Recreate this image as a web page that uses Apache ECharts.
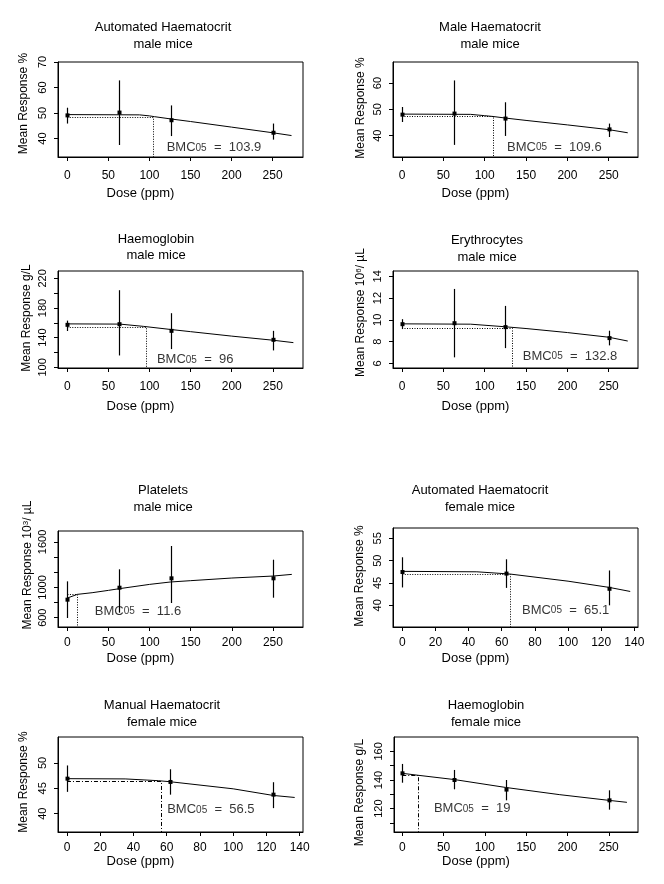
<!DOCTYPE html>
<html>
<head>
<meta charset="utf-8">
<script src="https://cdn.jsdelivr.net/npm/echarts@6/dist/echarts.min.js"></script>
<style>html,body{margin:0;padding:0;background:#fff}#c{width:664px;height:884px}</style>
</head>
<body>
<div id="c"></div>
<script>
// ---------- DATA ----------
const titles = [
  'Automated Haematocrit\nmale mice', 'Male Haematocrit\nmale mice',
  'Haemoglobin\nmale mice', 'Erythrocytes\nmale mice',
  'Platelets\nmale mice', 'Automated Haematocrit\nfemale mice',
  'Manual Haematocrit\nfemale mice', 'Haemoglobin\nfemale mice'
];
const yNames = [
  'Mean Response %', 'Mean Response %', 'Mean Response g/L', 'Mean Response 10{sup|6}/ µL',
  'Mean Response 10{sup|3}/ µL', 'Mean Response %', 'Mean Response %', 'Mean Response g/L'
];
const xTicksMale = [0, 50, 100, 150, 200, 250];
const xTicksFemale = [0, 20, 40, 60, 80, 100, 120, 140];

// Panel 1: Automated Haematocrit, male
const dose1 = [0, 63, 126, 250];
const mean1 = [49.1, 50.2, 47.2, 42.3];
const low1 = [45.9, 37.5, 41.0, 39.6];
const high1 = [52.1, 62.8, 53.0, 45.9];
const curveX1 = [0, 88, 100, 106, 126, 150, 200, 250, 273];
const curveY1 = [49.4, 49.3, 48.9, 48.6, 47.7, 46.7, 44.5, 42.3, 41.2];
const bmc1 = 103.9, bmr1 = 48.3;
const yTicks1 = [40, 50, 60, 70], yLabels1 = [40, 50, 60, 70];

// Panel 2: Male Haematocrit, male
const dose2 = [0, 63, 125, 250];
const mean2 = [48.0, 48.4, 46.5, 42.4];
const low2 = [45.2, 36.5, 39.9, 39.5];
const high2 = [50.9, 61.0, 52.7, 44.6];
const curveX2 = [0, 83, 100, 110, 125, 150, 200, 250, 273];
const curveY2 = [48.2, 48.1, 47.6, 47.3, 46.7, 45.8, 44.1, 42.3, 41.1];
const bmc2 = 109.6, bmr2 = 47.3;
const yTicks2 = [40, 50, 60], yLabels2 = [40, 50, 60];

// Panel 3: Haemoglobin, male
const dose3 = [0, 63, 126, 250];
const mean3 = [157.3, 158.2, 149.2, 137.1];
const low3 = [149, 116, 124.6, 122.8];
const high3 = [163, 204, 173, 149.2];
const curveX3 = [0, 64, 93, 126, 150, 200, 250, 275];
const curveY3 = [158.6, 158.3, 155.2, 151.0, 148.1, 142.1, 136.6, 133.3];
const bmc3 = 96, bmr3 = 154.6;
const yTicks3 = [100, 120, 140, 160, 180, 200, 220], yLabels3 = [100, 140, 180, 220];

// Panel 4: Erythrocytes, male
const dose4 = [0, 63, 125, 250];
const mean4 = [9.6, 9.69, 9.33, 8.32];
const low4 = [9.15, 6.55, 7.4, 7.65];
const high4 = [10.06, 12.84, 11.28, 9.0];
const curveX4 = [0, 83, 125, 150, 200, 250, 273];
const curveY4 = [9.63, 9.6, 9.36, 9.2, 8.83, 8.4, 8.05];
const bmc4 = 132.8, bmr4 = 9.24;
const yTicks4 = [6, 8, 10, 12, 14], yLabels4 = [6, 8, 10, 12, 14];

// Panel 5: Platelets, male
const dose5 = [0, 63, 126, 250];
const mean5 = [838, 996, 1120, 1120];
const low5 = [596, 666, 794, 864];
const high5 = [1080, 1239, 1547, 1366];
const curveX5 = [0, 12, 30, 50, 63, 100, 125, 150, 200, 250, 273];
const curveY5 = [860, 908, 930, 961, 983, 1040, 1071, 1089, 1124, 1150, 1172];
const bmc5 = 11.6, bmr5 = 908;
const yTicks5 = [600, 800, 1000, 1200, 1400, 1600], yLabels5 = [600, 1000, 1600];

// Panel 6: Automated Haematocrit, female
const dose6 = [0, 62.5, 125];
const mean6 = [47.46, 47.1, 43.7];
const low6 = [44.0, 43.9, 40.0];
const high6 = [50.75, 50.3, 47.8];
const curveX6 = [0, 45, 65, 100, 125, 137.5];
const curveY6 = [47.6, 47.5, 47.0, 45.4, 44.0, 43.1];
const bmc6 = 65.1, bmr6 = 46.9;
const yTicks6 = [40, 45, 50, 55], yLabels6 = [40, 45, 50, 55];

// Panel 7: Manual Haematocrit, female
const dose7 = [0, 62, 124];
const mean7 = [46.9, 46.25, 43.75];
const low7 = [44.3, 43.75, 41.1];
const high7 = [49.5, 48.75, 46.2];
const curveX7 = [0, 35, 55, 62, 100, 124, 137];
const curveY7 = [46.9, 46.85, 46.5, 46.3, 44.9, 43.6, 43.2];
const bmc7 = 56.5, bmr7 = 46.45;
const yTicks7 = [40, 45, 50], yLabels7 = [40, 45, 50];

// Panel 8: Haemoglobin, female
const dose8 = [0, 63, 125, 250];
const mean8 = [144.65, 140, 133.3, 125.8];
const low8 = [138.1, 133.5, 125.8, 119.3];
const high8 = [151.2, 147, 140, 132.8];
const curveX8 = [0, 19, 63, 125, 190, 250, 272];
const curveY8 = [144.65, 143.3, 140.3, 134.8, 129.8, 125.8, 124.4];
const bmc8 = 19, bmr8 = 143.3;
const yTicks8 = [110, 120, 130, 140, 150, 160], yLabels8 = [120, 140, 160];

const panelsData = [
  {dose: dose1, mean: mean1, low: low1, high: high1, cx: curveX1, cy: curveY1, bmc: bmc1, bmr: bmr1, yt: yTicks1, yl: yLabels1, xt: xTicksMale},
  {dose: dose2, mean: mean2, low: low2, high: high2, cx: curveX2, cy: curveY2, bmc: bmc2, bmr: bmr2, yt: yTicks2, yl: yLabels2, xt: xTicksMale},
  {dose: dose3, mean: mean3, low: low3, high: high3, cx: curveX3, cy: curveY3, bmc: bmc3, bmr: bmr3, yt: yTicks3, yl: yLabels3, xt: xTicksMale},
  {dose: dose4, mean: mean4, low: low4, high: high4, cx: curveX4, cy: curveY4, bmc: bmc4, bmr: bmr4, yt: yTicks4, yl: yLabels4, xt: xTicksMale},
  {dose: dose5, mean: mean5, low: low5, high: high5, cx: curveX5, cy: curveY5, bmc: bmc5, bmr: bmr5, yt: yTicks5, yl: yLabels5, xt: xTicksMale},
  {dose: dose6, mean: mean6, low: low6, high: high6, cx: curveX6, cy: curveY6, bmc: bmc6, bmr: bmr6, yt: yTicks6, yl: yLabels6, xt: xTicksFemale},
  {dose: dose7, mean: mean7, low: low7, high: high7, cx: curveX7, cy: curveY7, bmc: bmc7, bmr: bmr7, yt: yTicks7, yl: yLabels7, xt: xTicksFemale},
  {dose: dose8, mean: mean8, low: low8, high: high8, cx: curveX8, cy: curveY8, bmc: bmc8, bmr: bmr8, yt: yTicks8, yl: yLabels8, xt: xTicksMale}
];

// ---------- LAYOUT (positions / axis ranges / styles) ----------
const layout = [
  {grid: [58, 62, 245, 95],  x: [-11.3, 287],   y: [32.8, 70],    tx: 163, ty: 19.5, lab: [121, 36.5],  xm: 13, xg: 30, yg: 28, yPad: [0, 0, 0, 12], dash: [1, 1.5]},
  {grid: [393, 62, 245, 95], x: [-10.9, 285.4], y: [31.9, 68],    tx: 490, ty: 19.5, lab: [127, 35.7],  xm: 13, xg: 30, yg: 26, yPad: [0, 0, 0, 3],  dash: [1, 1.5]},
  {grid: [58, 271, 245, 97], x: [-11.3, 286.7], y: [99.1, 229.9], tx: 156, ty: 231,  lab: [109, 110.3], xm: 13, xg: 32, yg: 25, yPad: [0, 0, 0, 3],  dash: [1, 1.5]},
  {grid: [393, 271, 245, 97],x: [-10.9, 285.4], y: [5.57, 14.49], tx: 487, ty: 232.5,lab: [146, 6.67],  xm: 13, xg: 32, yg: 26, yPad: [0, 0, 0, 14], dash: [1, 1.5]},
  {grid: [58, 531, 245, 96], x: [-11.5, 286.6], y: [477, 1745],   tx: 163, ty: 482.5,lab: [33.3, 687],  xm: 10, xg: 25, yg: 24, yPad: [0, 0, 0, 28], dash: [1, 1.5]},
  {grid: [393, 528, 245, 99],x: [-5.6, 142.2],  y: [35.15, 57.3], tx: 480, ty: 482.5,lab: [72.2, 38.9],  xm: 10, xg: 25, yg: 27, yPad: [0, 0, 0, 3],  dash: [1, 1.5]},
  {grid: [58, 737, 245, 95], x: [-5.4, 142.0],  y: [36.4, 55.1],  tx: 162, ty: 697.5,lab: [60.3, 40.8],  xm: 10, xg: 23, yg: 28, yPad: [0, 0, 0, 5],  dash: [4, 2, 1, 2]},
  {grid: [394, 737, 244, 95],x: [-10.0, 285.4], y: [103.7, 170],  tx: 486, ty: 697.5,lab: [38.3, 120],   xm: 10, xg: 23, yg: 28, yPad: [0, 16, 0, 0], dash: [4, 2, 1, 2]}
];

const FONT = '"Liberation Sans", Arial, sans-serif';
const BLACK = '#000';
const crisp = v => Math.round(v) + 0.5;

const option = {
  animation: false,
  backgroundColor: '#fff',
  textStyle: {fontFamily: FONT, color: BLACK},
  title: [], grid: [], xAxis: [], yAxis: [], series: []
};

panelsData.forEach((p, i) => {
  const L = layout[i];
  option.title.push({
    text: titles[i], left: L.tx, top: L.ty, textAlign: 'center', padding: 0,
    textStyle: {fontSize: 13, fontWeight: 'normal', lineHeight: 16.5, color: BLACK, fontFamily: FONT}
  });
  option.grid.push({
    left: L.grid[0], top: L.grid[1], width: L.grid[2], height: L.grid[3],
    show: true, borderColor: BLACK, borderWidth: 1, backgroundColor: 'transparent', containLabel: false
  });
  option.xAxis.push({
    type: 'value', gridIndex: i, min: L.x[0], max: L.x[1],
    axisLine: {show: true, onZero: false, lineStyle: {color: BLACK, width: 1}},
    axisTick: {show: true, length: 4, customValues: p.xt, lineStyle: {color: BLACK}},
    axisLabel: {customValues: p.xt, color: BLACK, fontSize: 12, margin: L.xm, fontFamily: FONT, formatter: v => String(v)},
    splitLine: {show: false},
    name: 'Dose (ppm)', nameLocation: 'middle', nameGap: L.xg,
    nameTextStyle: {fontSize: 13, color: BLACK, fontFamily: FONT, padding: [0, 80, 0, 0]}
  });
  option.yAxis.push({
    type: 'value', gridIndex: i, min: L.y[0], max: L.y[1],
    axisLine: {show: true, onZero: false, lineStyle: {color: BLACK, width: 1}},
    axisTick: {show: true, length: 4, customValues: p.yt, lineStyle: {color: BLACK}},
    axisLabel: {customValues: p.yl, color: BLACK, fontSize: 11, rotate: 90, margin: 10, fontFamily: FONT, formatter: v => String(v)},
    splitLine: {show: false},
    name: yNames[i], nameLocation: 'middle', nameGap: L.yg, nameRotate: 90,
    nameTextStyle: {fontSize: 12, color: BLACK, fontFamily: FONT, padding: L.yPad,
      rich: {sup: {fontSize: 8, verticalAlign: 'top', padding: [0, 0, 4, 0], fontFamily: FONT, color: BLACK}}}
  });
  // fitted curve
  option.series.push({
    type: 'line', xAxisIndex: i, yAxisIndex: i, showSymbol: false, symbol: 'none', silent: true,
    data: p.cx.map((x, k) => [x, p.cy[k]]),
    lineStyle: {color: BLACK, width: 1}
  });
  // BMC reference lines (horizontal at BMR from first dose to BMC, vertical from BMC down to axis)
  option.series.push({
    type: 'custom', xAxisIndex: i, yAxisIndex: i, silent: true,
    encode: {x: [0, 2], y: [1]},
    data: [[p.bmc, p.bmr, p.dose[0]]],
    renderItem: (params, api) => {
      const a = api.coord([api.value(2), api.value(1)]);
      const b = api.coord([api.value(0), api.value(1)]);
      const c = api.coord([api.value(0), L.y[0]]);
      const y = crisp(a[1]), x = crisp(b[0]);
      return {type: 'polyline', shape: {points: [[a[0], y], [x, y], [x, c[1]]]},
        style: {stroke: BLACK, lineWidth: 1, lineDash: L.dash, fill: null}};
    }
  });
  // error bars + means
  option.series.push({
    type: 'custom', xAxisIndex: i, yAxisIndex: i, silent: true,
    encode: {x: 0, y: [1, 2, 3]},
    data: p.dose.map((d, k) => [d, p.mean[k], p.low[k], p.high[k]]),
    renderItem: (params, api) => {
      const x = api.value(0);
      const pm = api.coord([x, api.value(1)]);
      const pl = api.coord([x, api.value(2)]);
      const ph = api.coord([x, api.value(3)]);
      const xx = crisp(pm[0]);
      return {type: 'group', children: [
        {type: 'line', shape: {x1: xx, y1: pl[1], x2: xx, y2: ph[1]}, style: {stroke: BLACK, lineWidth: 1.2}},
        {type: 'rect', shape: {x: xx - 2, y: pm[1] - 2, width: 4, height: 4}, style: {fill: BLACK}}
      ]};
    }
  });
  // BMC annotation
  option.series.push({
    type: 'scatter', xAxisIndex: i, yAxisIndex: i, symbolSize: 0, silent: true,
    data: [[L.lab[0], L.lab[1]]],
    label: {
      show: true, position: 'right', distance: 0, color: BLACK, fontSize: 13, fontFamily: FONT,
      formatter: () => 'BMC{sub|05}  =  ' + p.bmc,
      rich: {sub: {fontSize: 10, verticalAlign: 'bottom', fontFamily: FONT, color: BLACK, padding: [0, 0, 1, 0]}}
    }
  });
});

const chart = echarts.init(document.getElementById('c'), null, {renderer: 'canvas'});
chart.setOption(option);
</script>
</body>
</html>
